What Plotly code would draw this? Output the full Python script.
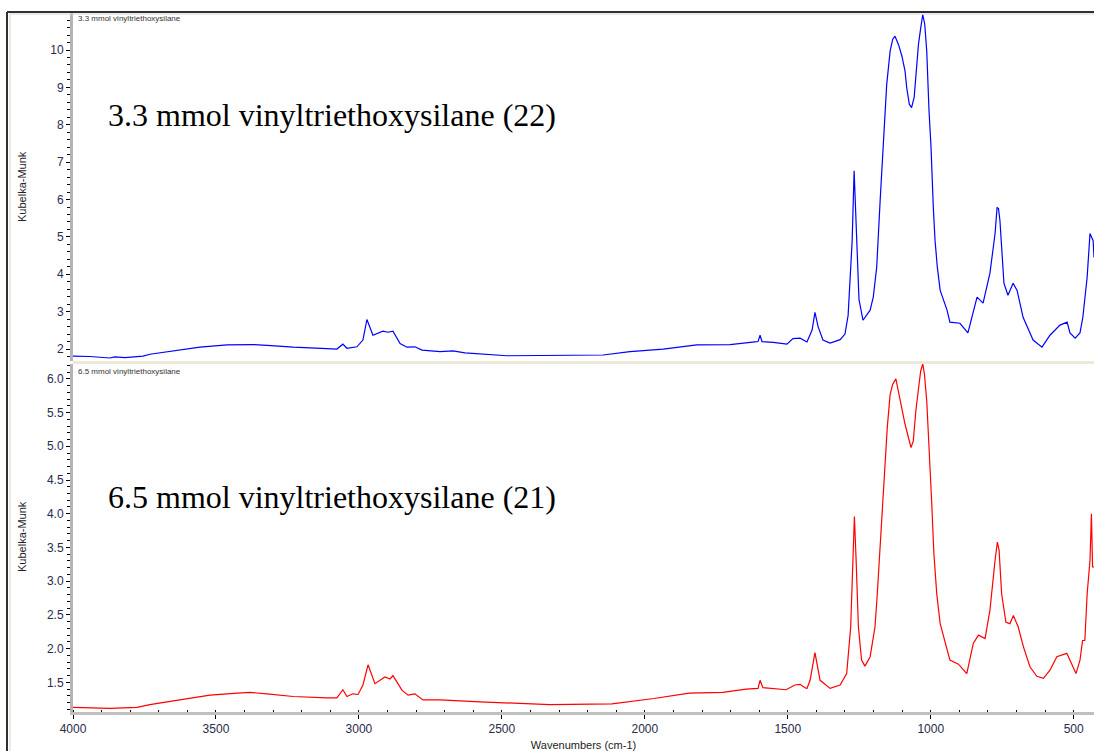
import plotly.graph_objects as go

# ---------------- data ----------------
top_wn = [4000, 3941, 3871, 3853, 3818, 3755, 3731, 3696, 3636, 3556, 3461, 3370, 3321, 3230,
          3112, 3077, 3056, 3042, 3007, 2986, 2972, 2951, 2916, 2898, 2881, 2856, 2832, 2804,
          2779, 2716, 2671, 2629, 2482, 2307, 2146, 2052, 1936, 1818, 1702, 1615, 1604, 1597,
          1590, 1551, 1503, 1482, 1457, 1433, 1415, 1405, 1394, 1377, 1352, 1317, 1300, 1289,
          1275, 1268, 1259, 1251, 1237, 1212, 1201, 1189, 1177, 1168, 1160, 1154, 1148, 1142,
          1133, 1125, 1113, 1101, 1090, 1084, 1075, 1067, 1058, 1052, 1043, 1035, 1028, 1021,
          1014, 1006, 999, 991, 985, 977, 967, 943, 933, 898, 870, 838, 817, 793, 775, 768,
          763, 758, 752, 744, 730, 712, 698, 677, 642, 611, 583, 548, 523, 513, 495, 478, 468,
          453, 443, 432, 429]
top_km = [1.81, 1.80, 1.76, 1.79, 1.77, 1.81, 1.86, 1.90, 1.97, 2.05, 2.11, 2.12, 2.10, 2.05,
          2.01, 2.00, 2.13, 2.02, 2.06, 2.24, 2.79, 2.37, 2.48, 2.45, 2.48, 2.15, 2.05, 2.06,
          1.97, 1.93, 1.95, 1.90, 1.82, 1.82, 1.84, 1.93, 2.00, 2.11, 2.12, 2.19, 2.20, 2.37,
          2.20, 2.18, 2.13, 2.28, 2.29, 2.19, 2.51, 2.98, 2.60, 2.24, 2.16, 2.25, 2.40, 2.90,
          4.88, 6.77, 5.10, 3.33, 2.77, 3.04, 3.39, 4.19, 5.97, 7.31, 8.19, 9.08, 9.53, 9.97,
          10.29, 10.37, 10.15, 9.84, 9.44, 8.99, 8.55, 8.46, 8.73, 9.26, 10.15, 10.59, 10.95, 10.69,
          9.97, 8.37, 7.39, 5.79, 4.91, 4.19, 3.57, 3.04, 2.72, 2.69, 2.43, 3.39, 3.23, 4.03, 5.09, 5.79,
          5.76, 5.44, 4.56, 3.76, 3.44, 3.76, 3.57, 2.85, 2.24, 2.05, 2.37, 2.64, 2.72, 2.43, 2.29,
          2.43, 2.85, 3.92, 5.09, 4.90, 4.45]

bot_wn = [4000, 3871, 3776, 3731, 3671, 3601, 3521, 3426, 3381, 3321, 3230, 3112, 3077, 3056,
          3042, 3021, 3003, 2986, 2968, 2944, 2909, 2891, 2881, 2849, 2828, 2804, 2776, 2716,
          2576, 2332, 2115, 1968, 1845, 1727, 1646, 1604, 1597, 1587, 1506, 1475, 1457, 1440,
          1433, 1422, 1405, 1387, 1352, 1317, 1294, 1280, 1273, 1267, 1261, 1253, 1242, 1230,
          1212, 1195, 1187, 1177, 1168, 1160, 1152, 1142, 1133, 1122, 1111, 1101, 1090, 1078,
          1069, 1061, 1052, 1041, 1035, 1028, 1022, 1014, 1005, 997, 989, 979, 967, 950, 933,
          903, 874, 851, 833, 810, 793, 775, 767, 761, 752, 737, 723, 711, 694, 676, 653, 629,
          606, 583, 559, 524, 507, 492, 478, 469, 461, 453, 443, 438, 434, 429]
bot_km = [1.13, 1.115, 1.13, 1.17, 1.21, 1.26, 1.31, 1.34, 1.35, 1.33, 1.29, 1.27, 1.27, 1.39,
          1.29, 1.33, 1.32, 1.46, 1.76, 1.48, 1.58, 1.55, 1.60, 1.38, 1.31, 1.33, 1.24, 1.24,
          1.21, 1.17, 1.18, 1.26, 1.34, 1.35, 1.40, 1.41, 1.53, 1.42, 1.39, 1.46, 1.47, 1.42,
          1.41, 1.53, 1.94, 1.53, 1.41, 1.46, 1.63, 2.32, 3.31, 3.96, 3.31, 2.32, 1.83, 1.74,
          1.88, 2.32, 2.81, 3.55, 4.29, 4.79, 5.28, 5.77, 5.92, 6.00, 5.77, 5.53, 5.33, 5.13,
          4.98, 5.08, 5.53, 5.92, 6.12, 6.22, 6.07, 5.67, 4.98, 4.20, 3.41, 2.81, 2.37, 2.12, 1.83,
          1.77, 1.63, 2.08, 2.20, 2.15, 2.57, 3.31, 3.58, 3.46, 2.81, 2.39, 2.37, 2.49, 2.32, 2.03,
          1.73, 1.59, 1.56, 1.68, 1.88, 1.93, 1.78, 1.63, 1.83, 2.12, 2.12, 2.81, 3.31, 4.00, 3.21,
          3.21]

top_ticks = [2, 3, 4, 5, 6, 7, 8, 9, 10]
bot_ticks = [1.5, 2.0, 2.5, 3.0, 3.5, 4.0, 4.5, 5.0, 5.5, 6.0]
x_ticks = [4000, 3500, 3000, 2500, 2000, 1500, 1000, 500]

top_label = "3.3 mmol vinyltriethoxysilane (22)"
bot_label = "6.5 mmol vinyltriethoxysilane (21)"
top_small = "3.3 mmol vinyltriethoxysilane"
bot_small = "6.5 mmol vinyltriethoxysilane"

# ---------------- figure ----------------
W, H = 1094, 751
L, R, T, B = 73, 0, 13, 39
ph = H - T - B
top_dom = [(712 - 361) / ph, 1.0]
bot_dom = [0.0, (712 - 364) / ph]

fig = go.Figure()
fig.add_trace(go.Scatter(x=top_wn, y=top_km, mode="lines", line=dict(color="#0000ff", width=1.2),
                         xaxis="x", yaxis="y2", showlegend=False, hoverinfo="skip"))
fig.add_trace(go.Scatter(x=bot_wn, y=bot_km, mode="lines", line=dict(color="#ff0000", width=1.2),
                         xaxis="x", yaxis="y", showlegend=False, hoverinfo="skip"))

tickfont = dict(family="Liberation Sans, Arial, sans-serif", size=12, color="#2a2a4a")
yaxis_common = dict(showgrid=False, zeroline=False, showline=True, linecolor="#b4b4b4", linewidth=3,
                    ticks="outside", ticklen=4, tickcolor="#000", tickwidth=1, tickfont=tickfont,
                    mirror=False, anchor="x")

fig.update_layout(
    width=W, height=H, margin=dict(l=L, r=R, t=T, b=B),
    paper_bgcolor="white", plot_bgcolor="white",
    xaxis=dict(range=[4000, 429], domain=[0, 1], tickvals=x_ticks, showgrid=False, zeroline=False,
               showline=True, linecolor="#c0c0c0", linewidth=3, ticks="outside", ticklen=4,
               tickcolor="#000", tickfont=tickfont, anchor="y",
               minor=dict(dtick=100, tick0=0, ticks="inside", ticklen=2, tickcolor="#000",
                          showgrid=False),
               title=dict(text="Wavenumbers (cm-1)", standoff=6,
                          font=dict(family="Liberation Sans, Arial, sans-serif", size=11, color="#222"))),
    yaxis=dict(domain=bot_dom, range=[1.06, 6.22], tickvals=bot_ticks, tickformat=".1f",
               minor=dict(dtick=0.1, tick0=0, ticks="outside", ticklen=3, tickcolor="#000"),
               **yaxis_common),
    yaxis2=dict(domain=top_dom, range=[1.68, 10.99], tickvals=top_ticks,
                minor=dict(dtick=0.2, tick0=0, ticks="outside", ticklen=3, tickcolor="#000"),
                **yaxis_common),
)

def ypaper(px):
    return (H - B - px) / ph

def xpaper(px):
    return (px - L) / (W - L - R)

# separator band between panels and frame
shapes = [
    dict(type="rect", xref="paper", yref="paper", x0=xpaper(73), x1=1, y0=ypaper(364), y1=ypaper(361),
         fillcolor="#ece9d8", line=dict(width=0)),
    dict(type="line", xref="paper", yref="paper", x0=xpaper(7), x1=xpaper(7), y0=ypaper(751), y1=ypaper(12),
         line=dict(color="#303030", width=2)),
    dict(type="line", xref="paper", yref="paper", x0=xpaper(7), x1=1.0, y0=ypaper(12), y1=ypaper(12),
         line=dict(color="#303030", width=2)),
    dict(type="line", xref="paper", yref="paper", x0=xpaper(10), x1=xpaper(10), y0=ypaper(751), y1=ypaper(14),
         line=dict(color="#d8d4c8", width=1)),
    dict(type="line", xref="paper", yref="paper", x0=xpaper(10), x1=1.0, y0=ypaper(14), y1=ypaper(14),
         line=dict(color="#d8d4c8", width=1)),
]
fig.update_layout(shapes=shapes)

serif = "Liberation Serif, Times New Roman, serif"
sans = "Liberation Sans, Arial, sans-serif"
annotations = [
    dict(text=top_label, x=xpaper(106), y=ypaper(115), xref="paper", yref="paper", xanchor="left",
         yanchor="middle", showarrow=False, font=dict(family=serif, size=32, color="#000")),
    dict(text=bot_label, x=xpaper(106), y=ypaper(497), xref="paper", yref="paper", xanchor="left",
         yanchor="middle", showarrow=False, font=dict(family=serif, size=32, color="#000")),
    dict(text=top_small, x=xpaper(76), y=ypaper(19), xref="paper", yref="paper", xanchor="left",
         yanchor="middle", showarrow=False, font=dict(family=sans, size=8, color="#333")),
    dict(text=bot_small, x=xpaper(76), y=ypaper(371), xref="paper", yref="paper", xanchor="left",
         yanchor="middle", showarrow=False, font=dict(family=sans, size=8, color="#333")),
    dict(text="Kubelka-Munk", x=xpaper(22), y=ypaper(187), xref="paper", yref="paper", xanchor="center",
         yanchor="middle", textangle=-90, showarrow=False, font=dict(family=sans, size=11, color="#222")),
    dict(text="Kubelka-Munk", x=xpaper(22), y=ypaper(537), xref="paper", yref="paper", xanchor="center",
         yanchor="middle", textangle=-90, showarrow=False, font=dict(family=sans, size=11, color="#222")),
]
fig.update_layout(annotations=annotations)

fig.write_html("out.html", config={"displayModeBar": False},
               post_script="document.body.style.margin='0';")
